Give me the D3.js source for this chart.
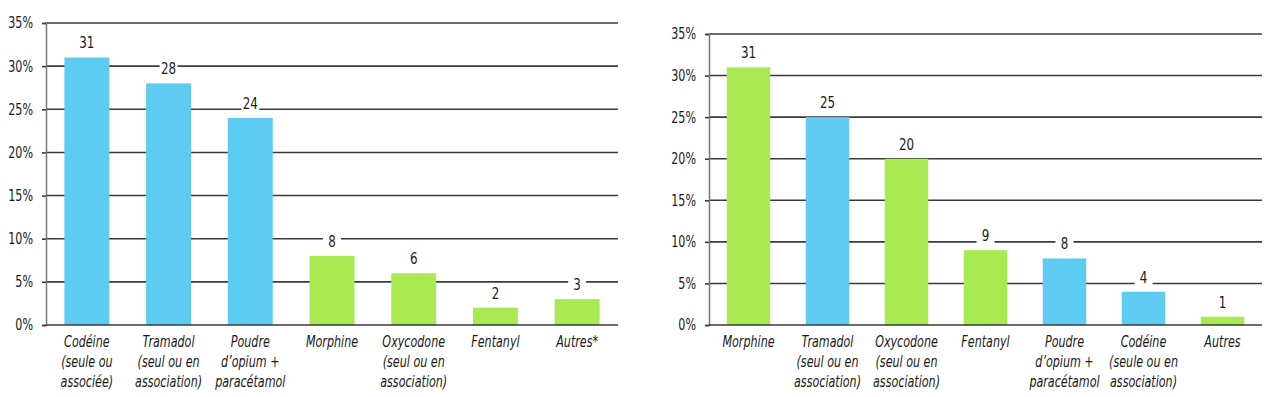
<!DOCTYPE html>
<html>
<head>
<meta charset="utf-8">
<script src="https://cdn.jsdelivr.net/npm/d3@7"></script>
<style>
  body { margin: 0; background: #fff; }
  svg { display: block; }
  text { font-family: "DejaVu Sans Condensed", "DejaVu Sans", sans-serif; fill: #1a1a1a; }
  .grid line { stroke: #3a3a3a; stroke-width: 1.6; }
  .cat { font-style: italic; font-size: 15.5px; }
</style>
</head>
<body>
<svg id="chart" width="1276" height="397"></svg>
<script>
// left panel
var leftCats = ["Codéine|(seule ou|associée)", "Tramadol|(seul ou en|association)", "Poudre|d’opium +|paracétamol",
                "Morphine", "Oxycodone|(seul ou en|association)", "Fentanyl", "Autres*"];
var leftVals = [31, 28, 24, 8, 6, 2, 3];
var leftType = ["w", "w", "w", "s", "s", "s", "s"];

// right panel
var rightCats = ["Morphine", "Tramadol|(seul ou en|association)", "Oxycodone|(seul ou en|association)", "Fentanyl",
                 "Poudre|d’opium +|paracétamol", "Codéine|(seule ou en|association)", "Autres"];
var rightVals = [31, 25, 20, 9, 8, 4, 1];
var rightType = ["s", "w", "s", "s", "w", "w", "s"];

var yTicks = [0, 5, 10, 15, 20, 25, 30, 35];

var colors = {w: "#5ecbf2", s: "#a9ea52"};
var squeeze = 0.8; // narrow the text a bit, the original font is condensed

var svg = d3.select("#chart");

function drawPanel(cats, vals, types, box) {
  var g = svg.append("g").attr("transform", "translate(" + box.left + "," + box.top + ")");
  var width = box.right - box.left, height = box.bottom - box.top;

  var x = d3.scaleBand().domain(cats).range([0, width]).paddingInner(0.45).paddingOuter(0.225);
  var y = d3.scaleLinear().domain([0, 35]).range([height, 0]);

  // gridlines
  g.append("g").attr("class", "grid")
    .selectAll("line").data(yTicks.slice(1)).enter().append("line")
      .attr("x1", 0).attr("x2", width)
      .attr("y1", d => y(d)).attr("y2", d => y(d));

  // y axis
  var yAxis = d3.axisLeft(y).tickValues(yTicks).tickSize(4).tickPadding(9).tickFormat(d => d + "%");
  var ya = g.append("g").call(yAxis);
  ya.select(".domain").attr("stroke", "#777").attr("stroke-width", 1.5);
  ya.selectAll(".tick line").attr("stroke", "#3a3a3a").attr("stroke-width", 1.6);
  ya.selectAll("text").attr("font-size", 15.5).attr("fill", "#1a1a1a")
    .attr("font-family", "DejaVu Sans Condensed, DejaVu Sans, sans-serif")
    .attr("x", 0).attr("transform", "translate(-13,0) scale(" + squeeze + ",1)");

  // bars
  g.selectAll(".bar").data(vals).enter().append("rect")
    .attr("x", (d, i) => x(cats[i]))
    .attr("y", d => y(d))
    .attr("width", x.bandwidth())
    .attr("height", d => height - y(d))
    .attr("fill", (d, i) => colors[types[i]]);

  // x axis line
  g.append("line").attr("x1", 0).attr("x2", width).attr("y1", height).attr("y2", height)
    .attr("stroke", "#3a3a3a").attr("stroke-width", 1.6);

  // value labels with white background
  var lab = g.selectAll(".val").data(vals).enter().append("g")
    .attr("transform", (d, i) => "translate(" + (x(cats[i]) + x.bandwidth() / 2) + "," + (y(d) - 15) + ")");
  lab.append("rect").attr("x", -9).attr("y", -9).attr("width", 18).attr("height", 18).attr("fill", "#fff");
  lab.append("text").attr("text-anchor", "middle").attr("dy", "0.36em").attr("font-size", 16.5)
    .attr("transform", "scale(" + squeeze + ",1)")
    .text(d => d);

  // category labels
  var ct = g.selectAll(".cat").data(cats).enter().append("text")
    .attr("class", "cat").attr("text-anchor", "middle")
    .attr("transform", d => "translate(" + (x(d) + x.bandwidth() / 2) + "," + (height + 22) + ") scale(" + squeeze + ",1)");
  ct.selectAll("tspan").data(d => d.split("|")).enter().append("tspan")
    .attr("x", 0).attr("y", (d, i) => i * 20).text(d => d);
}

drawPanel(leftCats, leftVals, leftType, {left: 46, right: 618, top: 23, bottom: 325});
drawPanel(rightCats, rightVals, rightType, {left: 709, right: 1262, top: 34, bottom: 325});
</script>
</body>
</html>
